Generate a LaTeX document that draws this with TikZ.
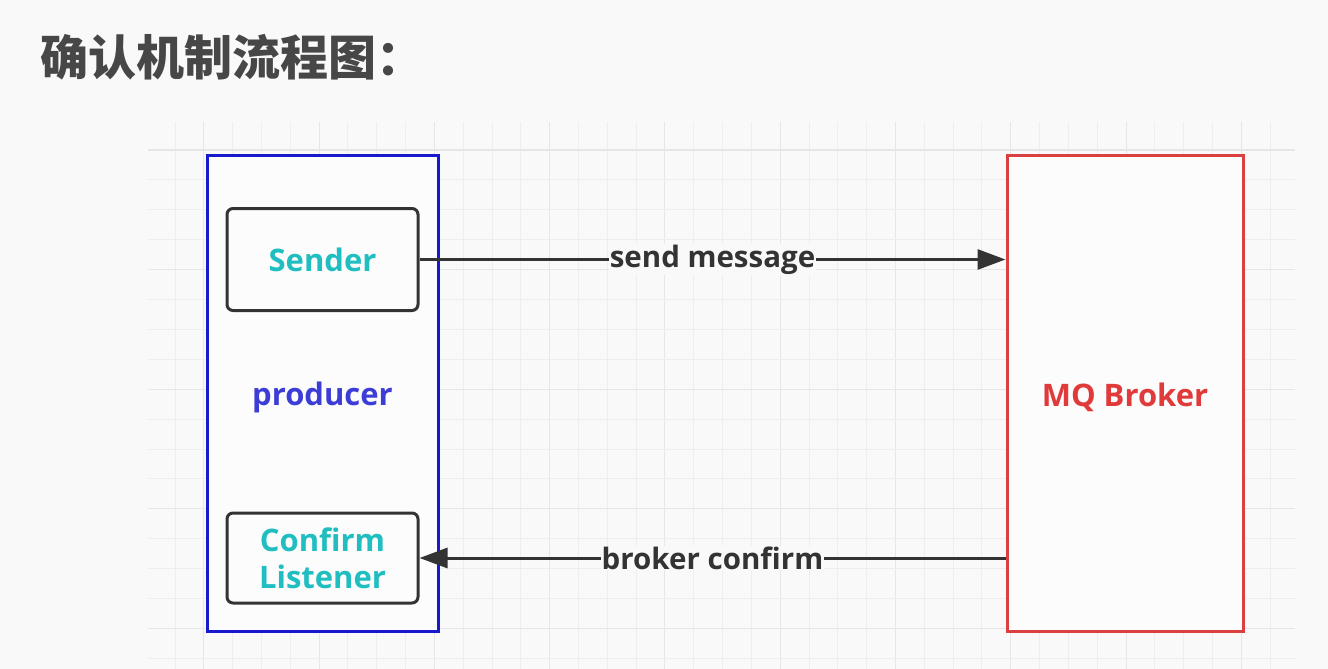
\documentclass[tikz,border=0pt]{standalone}
\usepackage{fontspec}
\setmainfont{Open Sans}
\newfontfamily\cjk{Noto Sans CJK SC}
\usepackage{tikz}
\usetikzlibrary{arrows.meta,positioning}
\definecolor{bgcol}{RGB}{248,249,248}
\definecolor{boxfill}{RGB}{251,252,251}
\definecolor{gridminor}{RGB}{237,238,237}
\definecolor{gridmajor}{RGB}{229,230,229}
\definecolor{prodblue}{RGB}{24,24,204}
\definecolor{prodtext}{RGB}{60,60,214}
\definecolor{brokerred}{RGB}{218,64,64}
\definecolor{brokertext}{RGB}{224,58,58}
\definecolor{cyantext}{RGB}{32,190,192}
\definecolor{darkline}{RGB}{51,51,51}
\tikzset{edge/.style={color=darkline, line width=3pt, -{Triangle[length=28pt,width=20pt]}}}

\begin{document}
\begin{tikzpicture}[x=1pt, y=-1pt, every node/.style={font=\bfseries\fontsize{31}{37}\selectfont}]
                \fill[bgcol] (0,0) rectangle (1328,669);
                \useasboundingbox (0,0) rectangle (1328,669);

                \foreach \i in {0,...,38} {
                    \pgfmathtruncatemacro\m{mod(\i,4)}
                    \ifnum\m=1
                        \draw[gridmajor, line width=1.1pt] (175+28.82*\i,122) -- (175+28.82*\i,669);
                    \else
                        \draw[gridminor, line width=1pt] (175+28.82*\i,122) -- (175+28.82*\i,669);
                    \fi
                }
                \foreach \j in {0,...,17} {
                    \pgfmathtruncatemacro\m{mod(\j,4)}
                    \ifnum\m=0
                        \draw[gridmajor, line width=1.1pt] (148,150+29.9*\j) -- (1295,150+29.9*\j);
                    \else
                        \draw[gridminor, line width=1pt] (148,150+29.9*\j) -- (1295,150+29.9*\j);
                    \fi
                }

                \node[anchor=west, text=black!72, font=\cjk\bfseries\fontsize{48}{58}\selectfont] (title) at (37,57) {确认机制流程图：};

                \node[draw=prodblue, line width=3pt, fill=boxfill,
                    minimum width=231pt, minimum height=476pt, inner sep=0pt,
                    label={[text=prodtext, yshift=-4pt]center:producer}] (producer) at (322.5,393) {};
                \node[draw=brokerred, line width=3pt, fill=boxfill,
                    minimum width=236pt, minimum height=476pt, inner sep=0pt,
                    label={[text=brokertext, yshift=-4pt]center:MQ Broker}] (broker) at (1125,393) {};

                \node[draw=darkline, line width=3pt, rounded corners=6pt, fill=boxfill, text=cyantext,
                    minimum width=191pt, minimum height=102pt, inner sep=0pt] (sender) at (322.5,259.5) {Sender};
                \node[draw=darkline, line width=3pt, rounded corners=6pt, fill=boxfill, text=cyantext, align=center,
                    minimum width=191pt, minimum height=90pt, inner sep=0pt] (listener) at (322.5,558) {Confirm\\[0pt]Listener};

                \draw[edge] (sender.east) -- node[fill=bgcol, inner sep=1pt, text=darkline,
                    font=\bfseries\fontsize{29.5}{35}\selectfont] (sendlabel) {send message} (sender.east -| broker.west);
                \draw[edge] (listener.east -| broker.west) -- node[fill=bgcol, inner sep=1pt, text=darkline,
                    font=\bfseries\fontsize{29.5}{35}\selectfont] (confirmlabel) {broker confirm} (listener.east);
\end{tikzpicture}
\end{document}
